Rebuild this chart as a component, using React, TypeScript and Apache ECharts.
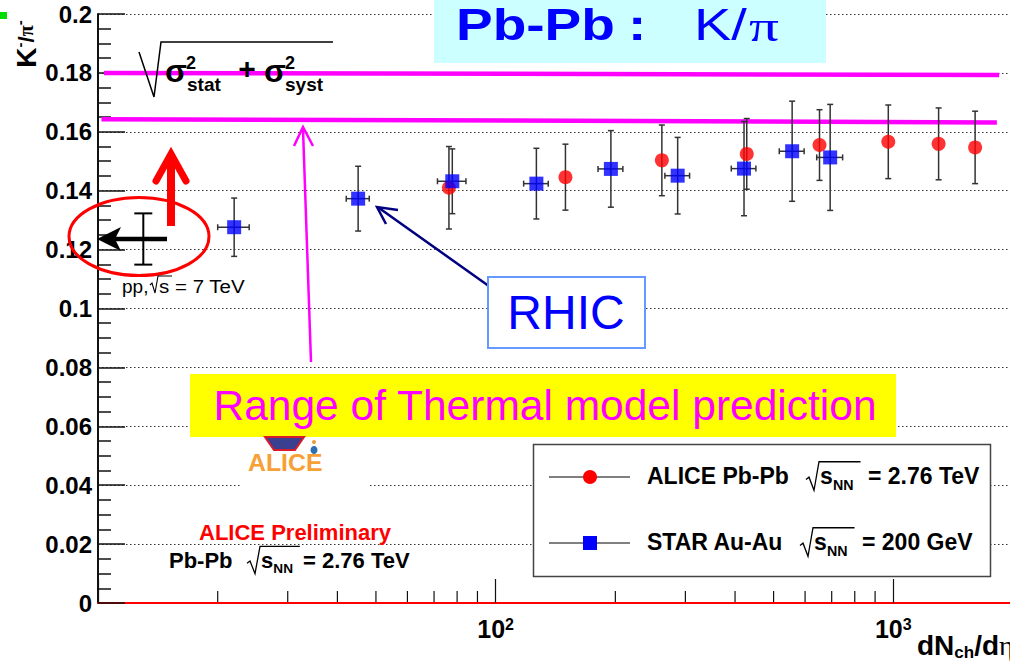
import React, { useEffect, useRef } from "react";
import * as echarts from "echarts";

// ALICE Pb-Pb, sqrt(sNN) = 2.76 TeV
const aliceDNdEta = [76.3, 149.8, 261.8, 428, 652.3, 971.4, 1300, 1606];
const aliceKPi = [0.141, 0.1446, 0.1503, 0.1525, 0.1555, 0.1566, 0.1559, 0.1547];
const aliceErr = [0.014, 0.0112, 0.012, 0.012, 0.012, 0.0125, 0.0122, 0.0123];

// STAR Au-Au, sqrt(sNN) = 200 GeV
const starDNdEta = [22.0, 45.1, 77.8, 126.6, 194.9, 286.9, 421.3, 556.7, 693.8];
const starDNdEtaErr = [2.0, 3.0, 6.4, 9.0, 14, 20.5, 30, 40, 52];
const starKPi = [0.1276, 0.1373, 0.1432, 0.1424, 0.1474, 0.1451, 0.1475, 0.1534, 0.1513];
const starErr = [0.0099, 0.011, 0.011, 0.012, 0.013, 0.013, 0.016, 0.017, 0.018];

// pp, sqrt(s) = 7 TeV
const ppDNdEta = [13];
const ppKPi = [0.1236];
const ppErr = [0.0087];

// thermal model range, [dNch/deta, K/pi] end points of each edge
const thermalUpper = [
  [10.35, 0.18],
  [1846, 0.1793],
];
const thermalLower = [
  [10.2, 0.1643],
  [1822, 0.1632],
];

const xMinorTicks = [20, 30, 40, 50, 60, 70, 80, 90, 200, 300, 400, 500, 600, 700, 800, 900];

const SANS = "'Liberation Sans', Arial, Helvetica, sans-serif";
const SERIF = "'Liberation Serif', 'DejaVu Serif', serif";

type Pt = [number, number];

const txt = (
  x: number,
  y: number,
  text: string,
  size: number,
  opts: { bold?: boolean; fill?: string; align?: string; family?: string; scaleX?: number; lineHeight?: number } = {}
) => ({
  type: "text",
  x,
  y,
  z: 100,
  silent: true,
  scaleX: opts.scaleX || 1,
  style: {
    text,
    fontFamily: opts.family || SANS,
    fontSize: size,
    fontWeight: opts.bold ? "bold" : "normal",
    fill: opts.fill || "#000",
    align: opts.align || "left",
    verticalAlign: "middle",
    lineHeight: opts.lineHeight,
  },
});

const poly = (points: Pt[], stroke: string, lineWidth: number, extra: any = {}) => ({
  type: "polyline",
  z: 100,
  silent: true,
  shape: { points },
  style: { stroke, lineWidth, fill: "none", ...extra },
});

const seg = (x1: number, y1: number, x2: number, y2: number, stroke: string, lineWidth: number, extra: any = {}) => ({
  type: "line",
  z: 100,
  silent: true,
  shape: { x1, y1, x2, y2 },
  style: { stroke, lineWidth, ...extra },
});

const box = (x: number, y: number, w: number, h: number, fill: string, stroke?: string, lw = 1) => ({
  type: "rect",
  z: 100,
  silent: true,
  shape: { x, y, width: w, height: h },
  style: { fill, stroke: stroke || "none", lineWidth: lw },
});

// "sqrt(s_NN)" block: radical sign, s and the NN subscript
const sqrtSNN = (x: number, cy: number, size: number, sub: string) => {
  const top = cy - size * 0.62;
  const subW = sub.length * size * 0.56;
  return [
    poly(
      [
        [x, cy + size * 0.15],
        [x + 3, cy + size * 0.05],
        [x + 8, cy + size * 0.62],
        [x + 13, top],
        [x + 13 + size * 0.6 + subW + 2, top],
      ],
      "#000",
      1.3
    ),
    txt(x + 14, cy, "s", size, { bold: true }),
    txt(x + 14 + size * 0.56, cy + size * 0.38, sub, size * 0.62, { bold: true }),
  ];
};

function buildGraphic() {
  const g: any[] = [];
  // small marker in the corner
  g.push(box(0, 12, 7, 7, "#00dd00"));

  // title
  g.push(box(434, -2, 392, 65, "#ccffff"));
  g.push(txt(456, 25, "Pb-Pb", 44, { bold: true, fill: "#0000ff", lineHeight: 40, scaleX: 1.25 }));
  g.push(txt(628, 25, ":", 44, { bold: true, fill: "#0000ff", lineHeight: 40, scaleX: 1.25 }));
  g.push(txt(694, 25, "K/", 44, { fill: "#0000ff", lineHeight: 40, scaleX: 1.27 }));
  g.push(txt(749, 26, "π", 44, { fill: "#0000ff", lineHeight: 40, family: SERIF, scaleX: 1.35 }));

  // sqrt(sigma_stat^2 + sigma_syst^2)
  g.push(poly([[139, 52], [154, 97], [161, 42], [333, 42]], "#000", 1.5));
  g.push(txt(165, 71, "σ", 32, { bold: true }));
  g.push(txt(186, 63, "2", 18, { bold: true }));
  g.push(txt(187, 84, "stat", 19, { bold: true }));
  g.push(txt(247, 68, "+", 30, { bold: true, align: "center" }));
  g.push(txt(264, 71, "σ", 32, { bold: true }));
  g.push(txt(285, 63, "2", 18, { bold: true }));
  g.push(txt(285, 84, "syst", 19, { bold: true }));

  // arrow to the thermal model band
  g.push(seg(311, 362, 303, 129, "#ff00ff", 2.5));
  g.push(poly([[294, 146], [303, 127], [313, 146]], "#ff00ff", 2.5));

  // pp reference: ellipse and arrows
  g.push({
    type: "ellipse",
    z: 100,
    silent: true,
    shape: { cx: 139, cy: 236.5, rx: 70, ry: 39 },
    style: { fill: "none", stroke: "#ff0000", lineWidth: 3 },
  });
  g.push(seg(171, 226, 171, 157, "#ff0000", 8));
  g.push(poly([[156, 181], [171, 154], [186, 181]], "#ff0000", 7, { lineCap: "round" }));
  g.push(seg(167, 239, 112, 239, "#000", 4.5));
  g.push({
    type: "polygon",
    z: 100,
    silent: true,
    shape: { points: [[97, 239], [121, 227], [115, 239], [121, 251]] },
    style: { fill: "#000" },
  });
  g.push(txt(122, 286, "pp,", 19));
  g.push(poly([[150, 285], [152, 283], [155, 293], [158, 276], [172, 276]], "#000", 1.1));
  g.push(txt(159, 286, "s = 7 TeV", 19, { scaleX: 1.08 }));

  // RHIC
  g.push(seg(493, 289, 379, 208, "#000080", 2.5));
  g.push(poly([[398, 210], [377, 207], [386, 224]], "#000080", 2.5));
  g.push(box(488, 277, 157, 71, "#ffffff", "#6699ff", 2));
  g.push(txt(566, 312, "RHIC", 48, { fill: "#0000ff", align: "center" }));

  // thermal model label
  g.push(box(190, 374, 706, 63, "#ffff00"));
  g.push(txt(545, 405, "Range of Thermal model prediction", 42.5, { fill: "#ff00ff", align: "center" }));

  // ALICE logo
  g.push(box(240, 437, 128, 55, "#ffffff"));
  g.push({
    type: "polygon",
    z: 100,
    silent: true,
    shape: { points: [[265, 437], [304, 437], [295, 450], [274, 450]] },
    style: { fill: "#3b3f8f", stroke: "#d81a2a", lineWidth: 2 },
  });
  g.push({ type: "circle", z: 100, silent: true, shape: { cx: 314, cy: 442, r: 2 }, style: { fill: "#f29a38" } });
  g.push({ type: "ellipse", z: 100, silent: true, shape: { cx: 314, cy: 450, rx: 3.5, ry: 4 }, style: { fill: "#2f6db5" } });
  g.push(txt(248, 463, "ALICE", 23, { bold: true, fill: "#f7a035", scaleX: 1.08 }));

  // preliminary label
  g.push(txt(295, 532, "ALICE Preliminary", 22, { bold: true, fill: "#ff0000", align: "center" }));
  g.push(txt(169, 560, "Pb-Pb", 22, { bold: true }));
  g.push(...sqrtSNN(247, 560, 22, "NN"));
  g.push(txt(303, 560, "= 2.76 TeV", 22, { bold: true }));

  // legend
  g.push(box(533.5, 444.5, 457, 132, "#ffffff", "#444", 1.5));
  g.push(seg(549, 477, 630, 477, "#000", 1));
  g.push({ type: "circle", z: 101, silent: true, shape: { cx: 590, cy: 477, r: 7 }, style: { fill: "#ff0000" } });
  g.push(txt(647, 476, "ALICE Pb-Pb", 23, { bold: true }));
  g.push(...sqrtSNN(806, 476, 23, "NN"));
  g.push(txt(868, 476, "= 2.76 TeV", 23, { bold: true }));
  g.push(seg(549, 543, 630, 543, "#000", 1));
  g.push(box(583, 536, 14, 14, "#0000ff"));
  g.push(txt(647, 542, "STAR Au-Au", 23, { bold: true }));
  g.push(...sqrtSNN(800, 542, 23, "NN"));
  g.push(txt(862, 542, "= 200 GeV", 23, { bold: true }));

  // axis titles
  g.push({
    type: "text",
    x: 26,
    y: 44,
    rotation: Math.PI / 2,
    z: 100,
    silent: true,
    style: {
      text: "{k|K}{s|-}{n|/}{p|π}{s|-}",
      align: "center",
      verticalAlign: "middle",
      rich: {
        k: { fontFamily: SANS, fontSize: 28, fontWeight: "bold", fill: "#000" },
        s: { fontFamily: SANS, fontSize: 15, fontWeight: "bold", fill: "#000", verticalAlign: "top" },
        n: { fontFamily: SANS, fontSize: 22, fontWeight: "bold", fill: "#000" },
        p: { fontFamily: SERIF, fontSize: 20, fontWeight: "bold", fill: "#000" },
      },
    },
  });
  g.push({
    type: "text",
    x: 917,
    y: 645,
    z: 100,
    silent: true,
    style: {
      text: "{b|dN}{s|ch}{b|/d}{e|η}",
      verticalAlign: "middle",
      rich: {
        b: { fontFamily: SANS, fontSize: 28, fontWeight: "bold", fill: "#000" },
        s: { fontFamily: SANS, fontSize: 17, fontWeight: "bold", fill: "#000", verticalAlign: "bottom", padding: [14, 0, 0, 0] },
        e: { fontFamily: SERIF, fontSize: 28, fill: "#000" },
      },
    },
  });
  return g;
}

const errorBarItem = (capHalf: number, width: number, color: string) => (_p: any, api: any) => {
  const x = api.value(0);
  const y = api.value(1);
  const ey = api.value(2);
  const ex = api.value(3);
  const top = api.coord([x, y + ey]);
  const bot = api.coord([x, y - ey]);
  const style = { stroke: color, lineWidth: width };
  const children: any[] = [
    { type: "line", shape: { x1: top[0], y1: top[1], x2: bot[0], y2: bot[1] }, style },
    { type: "line", shape: { x1: top[0] - capHalf, y1: top[1], x2: top[0] + capHalf, y2: top[1] }, style },
    { type: "line", shape: { x1: bot[0] - capHalf, y1: bot[1], x2: bot[0] + capHalf, y2: bot[1] }, style },
  ];
  if (ex > 0) {
    const l = api.coord([x - ex, y]);
    const r = api.coord([x + ex, y]);
    children.push(
      { type: "line", shape: { x1: l[0], y1: l[1], x2: r[0], y2: r[1] }, style },
      { type: "line", shape: { x1: l[0], y1: l[1] - 3, x2: l[0], y2: l[1] + 3 }, style },
      { type: "line", shape: { x1: r[0], y1: r[1] - 3, x2: r[0], y2: r[1] + 3 }, style }
    );
  }
  return { type: "group", children };
};

export default function App() {
  const ref = useRef<HTMLDivElement>(null);
  useEffect(() => {
    if (!ref.current) return;
    const chart = echarts.init(ref.current, null, { renderer: "svg" });
    const fmtY = (v: number) => String(parseFloat(v.toFixed(3)));
    chart.setOption({
      animation: false,
      backgroundColor: "#ffffff",
      grid: { left: 98, top: 14, bottom: 63, right: 2, containLabel: false },
      xAxis: {
        type: "log",
        logBase: 10,
        min: 10,
        max: 2000,
        axisLine: { show: true, lineStyle: { color: "#ff0000", width: 2 } },
        axisTick: { show: true, inside: true, length: 24, lineStyle: { color: "#111", width: 1.2 } },
        splitLine: { show: false },
        axisLabel: {
          margin: 13,
          formatter: (v: number) => {
            const r = Math.round(v);
            if (r === 100) return "{b|10}{s|2}";
            if (r === 1000) return "{b|10}{s|3}";
            return "";
          },
          rich: {
            b: { fontFamily: SANS, fontSize: 25, fontWeight: "bold", color: "#000" },
            s: { fontFamily: SANS, fontSize: 16, fontWeight: "bold", color: "#000", verticalAlign: "top", padding: [0, 0, 10, 0] },
          },
        },
      },
      yAxis: {
        type: "value",
        min: 0,
        max: 0.2,
        interval: 0.02,
        axisLine: { show: true, lineStyle: { color: "#111", width: 2 } },
        axisTick: { show: true, inside: true, length: 27, lineStyle: { color: "#111", width: 1.5 } },
        minorTick: { show: true, splitNumber: 4, length: 13, lineStyle: { color: "#111", width: 1.5 } },
        splitLine: { show: true, lineStyle: { color: "#333", width: 1, type: [1.5, 2.5] } },
        axisLabel: {
          margin: 6,
          fontFamily: SANS,
          fontSize: 24,
          fontWeight: "bold",
          color: "#000",
          formatter: fmtY,
        },
      },
      series: [
        {
          type: "custom",
          name: "x minor ticks",
          silent: true,
          z: 1,
          data: xMinorTicks.map((v) => [v, 0]),
          renderItem: (_p: any, api: any) => {
            const c = api.coord([api.value(0), 0]);
            return {
              type: "line",
              shape: { x1: c[0], y1: c[1] - 1, x2: c[0], y2: c[1] - 12 },
              style: { stroke: "#111", lineWidth: 1.2 },
            };
          },
        },
        {
          type: "line",
          name: "thermal upper",
          data: thermalUpper,
          symbol: "none",
          silent: true,
          z: 3,
          lineStyle: { color: "#ff00ff", width: 4.5 },
        },
        {
          type: "line",
          name: "thermal lower",
          data: thermalLower,
          symbol: "none",
          silent: true,
          z: 3,
          lineStyle: { color: "#ff00ff", width: 4.5 },
        },
        {
          type: "custom",
          name: "ALICE errors",
          silent: true,
          z: 4,
          data: aliceDNdEta.map((x, i) => [x, aliceKPi[i], aliceErr[i], 0]),
          renderItem: errorBarItem(3, 1.5, "#333"),
        },
        {
          type: "custom",
          name: "STAR errors",
          silent: true,
          z: 4,
          data: starDNdEta.map((x, i) => [x, starKPi[i], starErr[i], starDNdEtaErr[i]]),
          renderItem: errorBarItem(3, 1.5, "#333"),
        },
        {
          type: "custom",
          name: "pp errors",
          silent: true,
          z: 4,
          data: ppDNdEta.map((x, i) => [x, ppKPi[i], ppErr[i], 0]),
          renderItem: errorBarItem(9, 2, "#000"),
        },
        {
          type: "scatter",
          name: "ALICE Pb-Pb",
          data: aliceDNdEta.map((x, i) => [x, aliceKPi[i]]),
          symbol: "circle",
          symbolSize: 14,
          z: 5,
          itemStyle: { color: "#ff0000" },
        },
        {
          type: "scatter",
          name: "STAR Au-Au",
          data: starDNdEta.map((x, i) => [x, starKPi[i]]),
          symbol: "rect",
          symbolSize: 14,
          z: 5,
          itemStyle: { color: "#0000ff" },
        },
      ],
      graphic: buildGraphic(),
    });
    return () => chart.dispose();
  }, []);
  return (
    <div style={{ position: "absolute", left: 0, top: 0, width: 1010, height: 666, overflow: "hidden", background: "#fff" }}>
      <div ref={ref} style={{ width: 1016, height: 666 }} />
    </div>
  );
}
